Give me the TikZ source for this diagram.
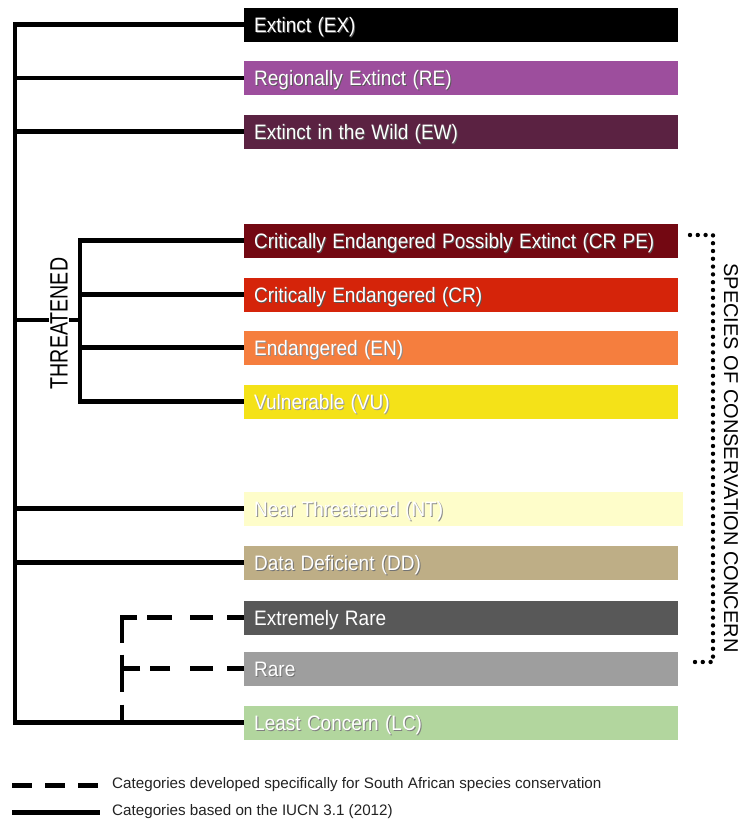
\documentclass[tikz,border=0pt]{standalone}
\usepackage{fontspec}
\setmainfont{Liberation Sans}
\definecolor{cEX}{RGB}{0,0,0}
\definecolor{cRE}{RGB}{157,78,157}
\definecolor{cEW}{RGB}{91,34,66}
\definecolor{cCRPE}{RGB}{115,8,18}
\definecolor{cCR}{RGB}{213,36,10}
\definecolor{cEN}{RGB}{245,126,62}
\definecolor{cVU}{RGB}{244,226,24}
\definecolor{cNT}{RGB}{254,253,202}
\definecolor{cDD}{RGB}{190,174,134}
\definecolor{cER}{RGB}{88,88,88}
\definecolor{cRA}{RGB}{158,158,158}
\definecolor{cLC}{RGB}{178,214,158}
\definecolor{legtext}{RGB}{34,34,34}
\newcommand\shd[2][black!65]{\scalebox{1}[1.1]{\rlap{\hspace{1pt}\raisebox{-1.2pt}{\textcolor{#1}{#2}}}#2}}
\begin{document}
\begin{tikzpicture}[x=1pt,y=-1pt,
  cat/.style={anchor=west, minimum height=34pt, text width=414pt, inner xsep=10pt,
    inner ysep=0pt, align=left, text=white, font=\fontsize{19}{19}\selectfont,
    text height=15pt, text depth=0pt},
  tree/.style={line width=4.5pt, line join=miter, black},
  sadash/.style={line width=4.5pt, line join=miter, black},
  soccdots/.style={line width=4.4pt, line cap=round, black, dash pattern=on 0pt off 7.8pt},
  vlabel/.style={inner sep=1pt, text=black}
]
\useasboundingbox (0,0) rectangle (740,822);

% category boxes
\node[cat, fill=cEX]   (ex)   at (244,24.5) {\shd{Extinct (EX)}};
\node[cat, fill=cRE]   (re)   at (244,78)   {\shd{Regionally Extinct (RE)}};
\node[cat, fill=cEW]   (ew)   at (244,131.5){\shd{Extinct in the Wild (EW)}};
\node[cat, fill=cCRPE] (crpe) at (244,240.5){\shd{Critically Endangered Possibly Extinct (CR PE)}};
\node[cat, fill=cCR]   (cr)   at (244,294.5){\shd{Critically Endangered (CR)}};
\node[cat, fill=cEN]   (en)   at (244,347.5){\shd[black!45]{Endangered (EN)}};
\node[cat, fill=cVU]   (vu)   at (244,401.5){\shd[black!40]{Vulnerable (VU)}};
\node[cat, fill=cNT, text width=419pt] (nt) at (244,508.5){\shd[black!45]{Near Threatened (NT)}};
\node[cat, fill=cDD]   (dd)   at (244,562.5){\shd[black!55]{Data Deficient (DD)}};
\node[cat, fill=cER]   (er)   at (244,617.5){\shd{Extremely Rare}};
\node[cat, fill=cRA]   (rare) at (244,668.5){\shd[black!55]{Rare}};
\node[cat, fill=cLC]   (lc)   at (244,722.5){\shd[black!50]{Least Concern (LC)}};

% helper coordinates
\coordinate (trunkB) at (15,722.5);
\coordinate (tj) at (15,320);
\coordinate (brX) at (80,320);
\coordinate (dX) at (122,722.5);

% main trunk
\draw[tree] (ex.west) -| (trunkB) -- (lc.west);
\draw[tree] (re.west) -- (re.west -| trunkB);
\draw[tree] (ew.west) -- (ew.west -| trunkB);
\draw[tree] (nt.west) -- (nt.west -| trunkB);
\draw[tree] (dd.west) -- (dd.west -| trunkB);

% threatened bracket
\node[vlabel, rotate=90, font=\fontsize{19.6}{19.6}\selectfont] (thr) at (59,323.5) {\scalebox{1}[1.28]{THREATENED}};
\draw[tree] (crpe.west) -| (vu.west -| brX) -- (vu.west);
\draw[tree] (cr.west) -- (cr.west -| brX);
\draw[tree] (en.west) -- (en.west -| brX);
\draw[tree] (tj) -- (tj -| thr.north);
\draw[tree] (tj -| thr.south) -- (brX);

% South African categories (dashed)
\draw[sadash, dash pattern=on 17pt off 14pt on 23pt off 18pt on 25pt off 10pt on 40pt off 12pt on 37pt off 13pt on 30pt] (er.west) -| (dX);
\draw[sadash, dash pattern=on 17pt off 14pt on 23pt off 20pt on 20pt off 10pt on 20pt] (rare.west) -- (rare.west -| dX);

% species of conservation concern (dotted)
\coordinate (dt) at (690,235);
\coordinate (dc) at (713,662);
\coordinate (db) at (690,662);
\draw[soccdots] (dt) -| (dc) -- (db);
\node[vlabel, rotate=-90, font=\fontsize{20}{20}\selectfont] (socc) at (731,458) {SPECIES OF CONSERVATION CONCERN};

% legend
\node[anchor=west, inner sep=0pt, text=legtext, font=\fontsize{15.2}{15.2}\selectfont] (leg1) at (112,785) {Categories developed specifically for South African species conservation};
\node[anchor=west, inner sep=0pt, text=legtext, font=\fontsize{15.2}{15.2}\selectfont] (leg2) at (112,812) {Categories based on the IUCN 3.1 (2012)};
\coordinate (l1a) at (12,785);
\coordinate (l2a) at (12,812);
\draw[line width=5pt, black, dash pattern=on 20pt off 13pt, shorten >=12pt] (l1a) -- (leg1.west);
\draw[line width=5pt, black, shorten >=12pt] (l2a) -- (leg2.west);
\end{tikzpicture}
\end{document}
